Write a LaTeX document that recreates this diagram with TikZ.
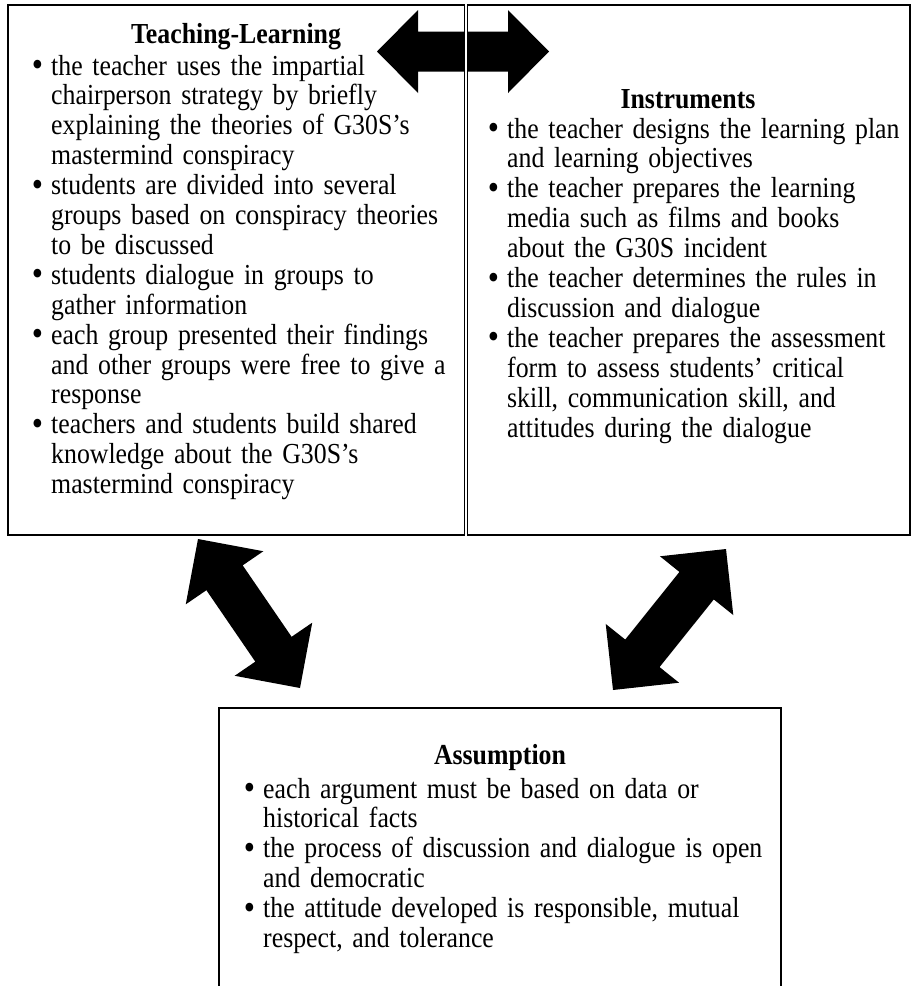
\documentclass[tikz,border=0pt]{standalone}
\usepackage{fontspec}
\setmainfont{Liberation Serif}[FakeStretch=0.89]
\usetikzlibrary{calc}
\tikzset{
  frame/.style={draw=black, line width=1.6pt, anchor=north west, inner sep=0pt, outer sep=0pt},
  body/.style={anchor=base west, inner sep=0pt, align=left, text width=600pt,
    font=\fontsize{29}{29.9}\selectfont},
  boxtitle/.style={anchor=base, inner sep=0pt, font=\fontsize{29}{29.9}\selectfont\bfseries},
  fat/.style={fill=black},
  divider/.style={draw=black, line width=1.5pt, double=white, double distance=1.5pt}
}
\newcommand\bul{\leavevmode\llap{\raisebox{-1.5pt}{\fontsize{36}{0}\selectfont\textbullet}\hspace{8pt}}}
% fat double-headed arrow between two named coordinates
% #1,#2 ends; #3 head length; #4 head half width; #5 shaft half width
\newcommand\fatarrow[5]{%
  \coordinate (#1-h) at ($(#1)!#3!(#2)$);
  \coordinate (#2-h) at ($(#2)!#3!(#1)$);
  \fill[fat] (#1) -- ($(#1-h)!#4!90:(#2)$) -- ($(#1-h)!#5!90:(#2)$)
    -- ($(#2-h)!#5!-90:(#1)$) -- ($(#2-h)!#4!-90:(#1)$) -- (#2)
    -- ($(#2-h)!#4!90:(#1)$) -- ($(#2-h)!#5!90:(#1)$)
    -- ($(#1-h)!#5!-90:(#2)$) -- ($(#1-h)!#4!-90:(#2)$) -- cycle;}
\begin{document}
\begin{tikzpicture}[x=1pt, y=-1pt]
\useasboundingbox (0,0) rectangle (912,986);
\fill[white] (0,0) rectangle (912,986);

% boxes
\node[frame, minimum width=456.5pt, minimum height=530pt] (teach) at (8,5) {};
\node[frame, minimum width=442.5pt, minimum height=530pt] (instr) at (467.5,5) {};
\node[frame, minimum width=562pt, minimum height=300pt] (assum) at (219,708) {};

% arrows
\coordinate (topL) at (377,51.5);
\coordinate (topR) at (549,51.5);
\fatarrow{topL}{topR}{41pt}{41.5pt}{20pt}
\draw[divider] (466,5) -- (466,535);

\coordinate (lA) at (198,539);
\coordinate (lB) at (300,688);
\fatarrow{lA}{lB}{47pt}{47pt}{22pt}

\coordinate (rA) at (726,549);
\coordinate (rB) at (613,690);
\fatarrow{rA}{rB}{47pt}{47pt}{22pt}

% titles
\node[boxtitle] (teachT) at (236,43) {Teaching-Learning};
\node[boxtitle] (instrT) at (688,108) {Instruments};
\node[boxtitle] (assumT) at (500,764) {Assumption};

% texts
\node[body] (teachB) at (51,75) {%
\bul the teacher uses the impartial\\
chairperson strategy by briefly\\
explaining the theories of G30S’s\\
mastermind conspiracy\\
\bul students are divided into several\\
groups based on conspiracy theories\\
to be discussed\\
\bul students dialogue in groups to\\
gather information\\
\bul each group presented their findings\\
and other groups were free to give a\\
response\\
\bul teachers and students build shared\\
knowledge about the G30S’s\\
mastermind conspiracy};

\node[body] (instrB) at (507,138) {%
\bul the teacher designs the learning plan\\
and learning objectives\\
\bul the teacher prepares the learning\\
media such as films and books\\
about the G30S incident\\
\bul the teacher determines the rules in\\
discussion and dialogue\\
\bul the teacher prepares the assessment\\
form to assess students’ critical\\
skill, communication skill, and\\
attitudes during the dialogue};

\node[body] (assumB) at (263,798) {%
\bul each argument must be based on data or\\
historical facts\\
\bul the process of discussion and dialogue is open\\
and democratic\\
\bul the attitude developed is responsible, mutual\\
respect, and tolerance};
\end{tikzpicture}
\end{document}
